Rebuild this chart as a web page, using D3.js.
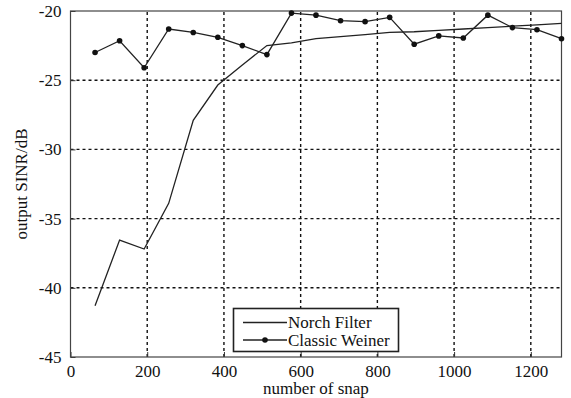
<!DOCTYPE html>
<html>
<head>
<meta charset="utf-8">
<script src="https://d3js.org/d3.v7.min.js"></script>
<style>
body { margin: 0; background: #fff; }
</style>
</head>
<body>
<div id="chart"></div>
<script>
var snaps = [64, 128, 192, 256, 320, 384, 448, 512, 576, 640, 704, 768, 832, 896, 960, 1024, 1088, 1152, 1216, 1280]
var norch = [-41.3, -36.55, -37.2, -33.9, -27.9, -25.35, -23.9, -22.5, -22.3, -22.0, -21.85, -21.7, -21.55, -21.5, -21.4, -21.3, -21.2, -21.1, -21.0, -20.9]
var weiner = [-23.0, -22.15, -24.1, -21.3, -21.55, -21.9, -22.5, -23.15, -20.15, -20.3, -20.7, -20.77, -20.46, -22.4, -21.8, -21.95, -20.3, -21.2, -21.35, -22.0]
var xTicks = [0, 200, 400, 600, 800, 1000, 1200]
var yTicks = [-45, -40, -35, -30, -25, -20]
var seriesNames = ["Norch Filter", "Classic Weiner"]

var width = 571, height = 398
var margin = {left: 70.5, top: 11, right: 9.5, bottom: 41}
var serif = "'Liberation Serif'"
var tickSize = 17, labelSize = 17

var svg = d3.select("#chart").append("svg")
    .attr("width", width)
    .attr("height", height)

var x = d3.scaleLinear().domain([0, 1280]).range([margin.left, width - margin.right])
var y = d3.scaleLinear().domain([-45, -20]).range([height - margin.bottom, margin.top])

// grid
svg.append("g")
    .selectAll("line")
    .data(xTicks.slice(1))
    .enter().append("line")
    .attr("x1", (d) => x(d)).attr("x2", (d) => x(d))
    .attr("y1", y(-45)).attr("y2", y(-20))
    .attr("stroke", "#111").attr("stroke-width", 1.4)
    .attr("stroke-dasharray", "3,3")

svg.append("g")
    .selectAll("line")
    .data(yTicks.slice(1, -1))
    .enter().append("line")
    .attr("x1", x(0)).attr("x2", x(1280))
    .attr("y1", (d) => y(d)).attr("y2", (d) => y(d))
    .attr("stroke", "#111").attr("stroke-width", 1.4)
    .attr("stroke-dasharray", "3,3")

// axes with inward ticks
var xAxis = svg.append("g")
    .attr("transform", "translate(0," + y(-45) + ")")
    .call(d3.axisBottom(x).tickValues(xTicks).tickSizeInner(-5).tickSizeOuter(0).tickPadding(8)
        .tickFormat((d) => String(d)))
var yAxis = svg.append("g")
    .attr("transform", "translate(" + x(0) + ",0)")
    .call(d3.axisLeft(y).tickValues(yTicks).tickSizeInner(-5).tickSizeOuter(0).tickPadding(9)
        .tickFormat((d) => String(d)))

;[xAxis, yAxis].forEach((g) => {
    g.attr("font-family", null).attr("font-size", null)
    g.select(".domain").remove()
    g.selectAll("line").attr("stroke", "#333")
    g.selectAll("text")
        .style("font-family", serif)
        .attr("font-size", tickSize)
        .attr("fill", "#111")
})

// frame
svg.append("rect")
    .attr("x", x(0)).attr("y", y(-20))
    .attr("width", x(1280) - x(0)).attr("height", y(-45) - y(-20))
    .attr("fill", "none").attr("stroke", "#444").attr("stroke-width", 1.2)

var line = d3.line().x((d) => x(d[0])).y((d) => y(d[1]))

svg.append("path")
    .datum(d3.zip(snaps, norch))
    .attr("d", line)
    .attr("fill", "none").attr("stroke", "#222").attr("stroke-width", 1.3)

svg.append("path")
    .datum(d3.zip(snaps, weiner))
    .attr("d", line)
    .attr("fill", "none").attr("stroke", "#222").attr("stroke-width", 1.3)

svg.append("g")
    .selectAll("circle")
    .data(d3.zip(snaps, weiner))
    .enter().append("circle")
    .attr("cx", (d) => x(d[0])).attr("cy", (d) => y(d[1]))
    .attr("r", 2.8).attr("fill", "#111")

// legend
var legend = svg.append("g")
legend.append("rect")
    .attr("x", 233.5).attr("y", 308.5).attr("width", 165).attr("height", 43)
    .attr("fill", "#fff").attr("stroke", "#222").attr("stroke-width", 1.6)

seriesNames.forEach((name, i) => {
    var ly = 322.5 + i * 17.5
    legend.append("line")
        .attr("x1", 243).attr("x2", 287).attr("y1", ly).attr("y2", ly)
        .attr("stroke", "#222").attr("stroke-width", 1.3)
    if (i === 1) {
        legend.append("circle").attr("cx", 265).attr("cy", ly).attr("r", 2.8).attr("fill", "#111")
    }
    legend.append("text")
        .attr("x", 288).attr("y", ly + 5.5)
        .style("font-family", serif).attr("font-size", labelSize)
        .attr("fill", "#111")
        .text(name)
})

// axis titles
svg.append("text")
    .attr("x", (x(0) + x(1280)) / 2).attr("y", 394)
    .attr("text-anchor", "middle")
    .style("font-family", serif).attr("font-size", labelSize)
    .attr("fill", "#111")
    .text("number of snap")

svg.append("text")
    .attr("transform", "translate(27," + (y(-45) + y(-20)) / 2 + ") rotate(-90)")
    .attr("text-anchor", "middle")
    .style("font-family", serif).attr("font-size", labelSize)
    .attr("fill", "#111")
    .text("output SINR/dB")
</script>
</body>
</html>
